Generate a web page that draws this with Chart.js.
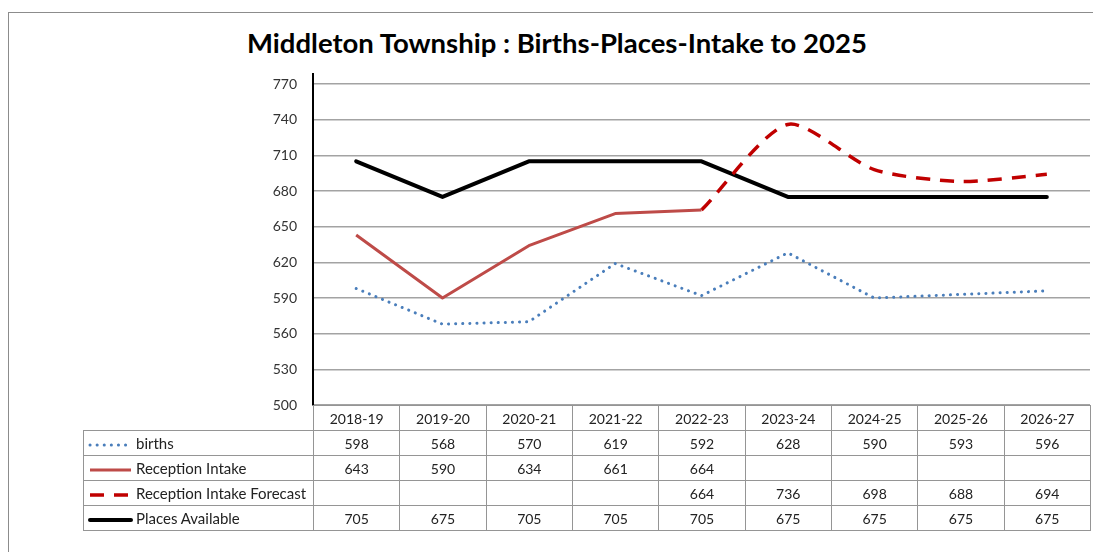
<!DOCTYPE html>
<html>
<head>
<meta charset="utf-8">
<script src="https://cdn.jsdelivr.net/npm/chart.js@4.4.1/dist/chart.umd.min.js"></script>
<style>
  body { margin:0; background:#fff; font-family: Lato, "Open Sans", sans-serif; }
  #wrap { position:relative; width:1093px; height:552px; overflow:hidden; }
  #frame { position:absolute; left:8px; top:12px; width:1100px; height:560px; border:1.5px solid #8c8c8c; box-sizing:border-box; }
  #title { position:absolute; left:0; width:1114px; top:26px; text-align:center; font-size:27.5px; font-weight:bold; color:#000; }
  canvas { position:absolute; left:0; top:0; }
  #tbl { position:absolute; left:83px; top:405px; border-collapse:collapse; table-layout:fixed; font-size:14px; color:#222; }
  #tbl td { border:1.5px solid #959595; height:24px; padding:0; text-align:center; white-space:nowrap; }
  #tbl td.lab { text-align:left; padding-left:3px; font-size:15px; }
  #tbl td.blank { border:none; border-bottom:1.5px solid #959595; }
  #tbl svg { vertical-align:middle; margin-right:3px; }
</style>
</head>
<body>
<div id="wrap">
  <div id="frame"></div>
  <div id="title">Middleton Township : Births-Places-Intake to 2025</div>
  <canvas id="lineChart" width="1093" height="552"></canvas>
  <table id="tbl"></table>
</div>
<script>
var years = ["2018-19","2019-20","2020-21","2021-22","2022-23","2023-24","2024-25","2025-26","2026-27"];
var births = [598,568,570,619,592,628,590,593,596];
var intake = [643,590,634,661,664,null,null,null,null];
var forecast = [null,null,null,null,664,736,698,688,694];
var places = [705,675,705,705,705,675,675,675,675];
var yTicks = [500,530,560,590,620,650,680,710,740,770];

var plotLeft = 313, plotRight = 1090, plotTop = 84, plotBottom = 405;
var colW = (plotRight - plotLeft) / years.length;

var series = [
  { label:"births", data:births, color:"#4a7ebb", width:3, dash:[0.1,7], cap:"round", tension:0 },
  { label:"Reception Intake", data:intake, color:"#be4b48", width:3, dash:[], cap:"butt", tension:0 },
  { label:"Reception Intake Forecast", data:forecast, color:"#c00000", width:3.5, dash:[14,10], cap:"butt", tension:0.25 },
  { label:"Places Available", data:places, color:"#000000", width:4, dash:[], cap:"round", tension:0 }
];

var axisTop = {
  id:'axisTop',
  afterDraw: function(chart){
    var c = chart.ctx;
    c.save();
    c.strokeStyle = '#000';
    c.lineWidth = 2;
    c.beginPath();
    c.moveTo(chart.chartArea.left, 73);
    c.lineTo(chart.chartArea.left, chart.chartArea.top);
    c.stroke();
    c.restore();
  }
};

var ctxL = document.getElementById("lineChart").getContext('2d');
var myLineChart = new Chart(ctxL, {
  type:'line',
  data:{
    labels:years,
    datasets:series.map(function(s){
      return {
        label:s.label, data:s.data, borderColor:s.color, backgroundColor:s.color,
        borderWidth:s.width, borderDash:s.dash, borderCapStyle:s.cap, borderJoinStyle:'round',
        tension:s.tension, pointRadius:0, spanGaps:false, fill:false
      };
    })
  },
  options:{
    responsive:false,
    animation:false,
    devicePixelRatio:1,
    layout:{ padding:{ left:0, right:1093-plotRight, top:plotTop, bottom:552-plotBottom } },
    plugins:{ legend:{display:false}, tooltip:{enabled:false}, title:{display:false} },
    scales:{
      x:{ display:false, offset:true },
      y:{
        min:500, max:770,
        afterFit:function(scale){ scale.width = plotLeft; },
        afterBuildTicks:function(scale){ scale.ticks = yTicks.map(function(v){ return {value:v}; }); },
        grid:{ color:'#a3a3a3', lineWidth:1.5, drawTicks:false },
        border:{ display:true, color:'#000', width:2 },
        ticks:{ padding:16, color:'#333', font:{ family:'Lato', size:14 } }
      }
    }
  },
  plugins:[axisTop]
});

// data table under the plot
var tbl = document.getElementById('tbl');
var html = '<colgroup><col style="width:230px">';
years.forEach(function(){ html += '<col style="width:' + colW + 'px">'; });
html += '</colgroup><tr><td class="blank"></td>';
years.forEach(function(y){ html += '<td>' + y + '</td>'; });
html += '</tr>';
series.forEach(function(s){
  var dash = s.dash.length ? s.dash.join(',') : 'none';
  html += '<tr><td class="lab"><svg width="46" height="8"><line x1="3" y1="4" x2="44" y2="4" stroke="' + s.color +
    '" stroke-width="' + s.width + '" stroke-dasharray="' + dash + '" stroke-linecap="' + s.cap + '"/></svg>' + s.label + '</td>';
  s.data.forEach(function(v){ html += '<td>' + (v === null ? '' : v) + '</td>'; });
  html += '</tr>';
});
tbl.innerHTML = html;
</script>
</body>
</html>
